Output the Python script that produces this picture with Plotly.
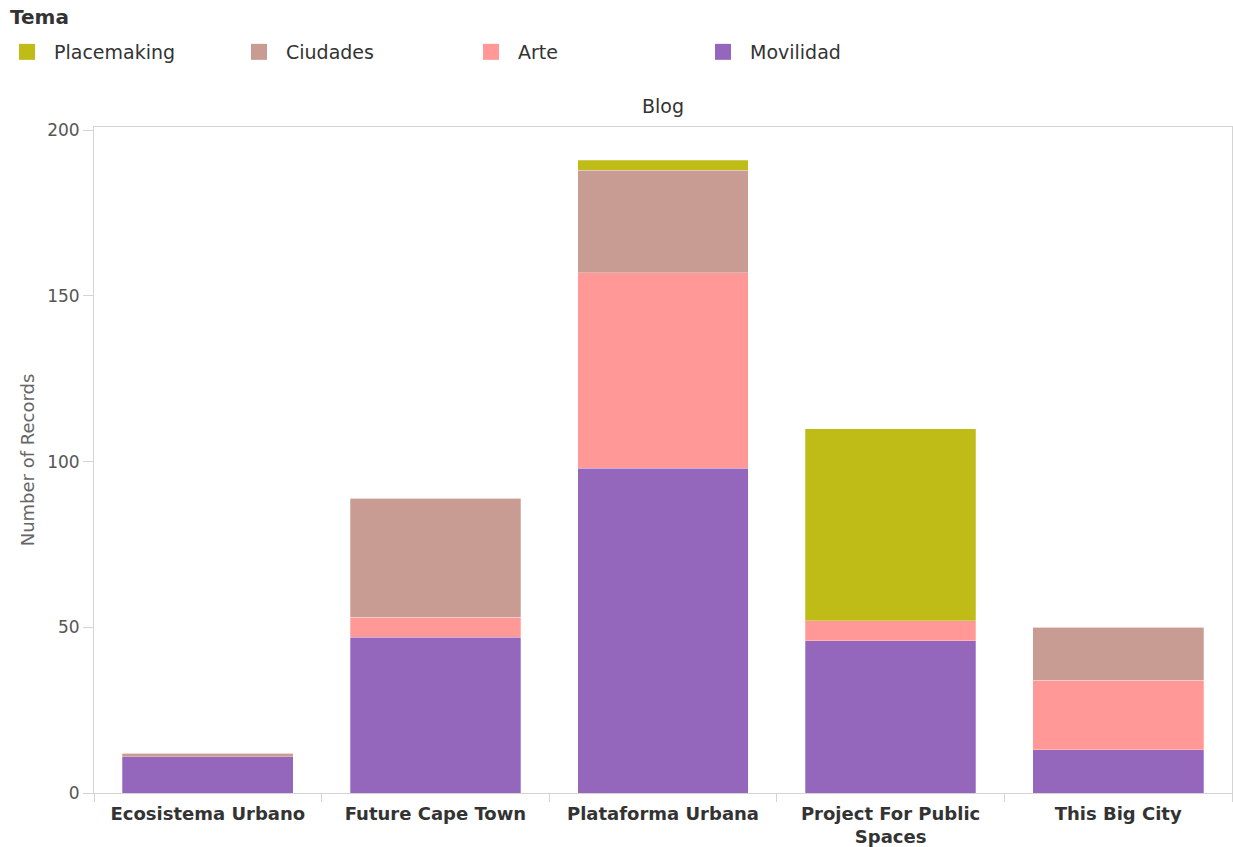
import plotly.graph_objects as go

blogs = ["Ecosistema Urbano", "Future Cape Town", "Plataforma Urbana",
         "Project For Public Spaces", "This Big City"]
blog_labels = ["Ecosistema Urbano", "Future Cape Town", "Plataforma Urbana",
               "Project For Public<br>Spaces", "This Big City"]

movilidad = [11, 47, 98, 46, 13]
arte = [0, 6, 59, 6, 21]
ciudades = [1, 36, 31, 0, 16]
placemaking = [0, 0, 3, 58, 0]

y_ticks = [0, 50, 100, 150, 200]

series = [
    ("Movilidad", movilidad, "#9467BD"),
    ("Arte", arte, "#FF9896"),
    ("Ciudades", ciudades, "#C89B93"),
    ("Placemaking", placemaking, "#BFBB17"),
]

FONT = "DejaVu Sans, Arial, sans-serif"

W, H = 1233, 847
ML, MR, MT, MB = 94, 1, 127, 54
PW, PH = W - ML - MR, H - MT - MB

fig = go.Figure()
for name, vals, color in series:
    fig.add_trace(go.Bar(
        x=blogs, y=vals, name=name, legendgroup=name, showlegend=False,
        marker=dict(color=color, line=dict(width=0.6, color="rgba(255,255,255,0.45)")),
    ))
    fig.add_trace(go.Scatter(
        x=[None], y=[None], mode="markers", name=name, legendgroup=name,
        marker=dict(symbol="square", size=16, color=color),
    ))

fig.update_layout(
    width=W, height=H,
    paper_bgcolor="white", plot_bgcolor="white",
    barmode="stack", bargap=0.25,
    margin=dict(l=ML, r=MR, t=MT, b=MB, autoexpand=False),
    font=dict(family=FONT, color="#333333", size=16),
    legend=dict(
        orientation="h", traceorder="reversed",
        xref="container", yref="container",
        x=0, y=1 - 33 / H, xanchor="left", yanchor="top",
        font=dict(family=FONT, size=19, color="#333333"),
        entrywidth=173, entrywidthmode="pixels",
        itemsizing="trace", itemwidth=44,
    ),
    xaxis=dict(
        type="category", tickmode="array", tickvals=blogs, ticktext=blog_labels,
        tickson="boundaries", ticks="outside", ticklen=8, tickcolor="#d4d4d4",
        showline=True, linecolor="#d4d4d4", linewidth=1, mirror=True,
        showgrid=False, zeroline=False, ticklabelstandoff=4, automargin=False,
        tickfont=dict(family=FONT, size=18, color="#333333", weight="bold"),
    ),
    yaxis=dict(
        range=[0, 201], tickmode="array", tickvals=y_ticks,
        ticks="outside", ticklen=10, tickcolor="#d4d4d4",
        showline=True, linecolor="#d4d4d4", linewidth=1, mirror=True,
        showgrid=False, zeroline=False, ticklabelstandoff=0, automargin=False,
        tickfont=dict(family=FONT, size=17, color="#555555"),
        title=dict(text="Number of Records", standoff=7,
                   font=dict(family=FONT, size=18, color="#666666")),
    ),
    annotations=[
        dict(text="Blog", xref="paper", yref="paper", x=0.5, y=1.0,
             xanchor="center", yanchor="bottom", yshift=8, showarrow=False,
             font=dict(family=FONT, size=19, color="#333333")),
        dict(text="<b>Tema</b>", xref="paper", yref="paper",
             x=(8 - ML) / PW, y=1 + (MT - 17) / PH,
             xanchor="left", yanchor="middle", showarrow=False,
             font=dict(family=FONT, size=20, color="#333333")),
    ],
)

fig.write_html("out.html", config={"displayModeBar": False},
               post_script="document.body.style.margin='0';")
